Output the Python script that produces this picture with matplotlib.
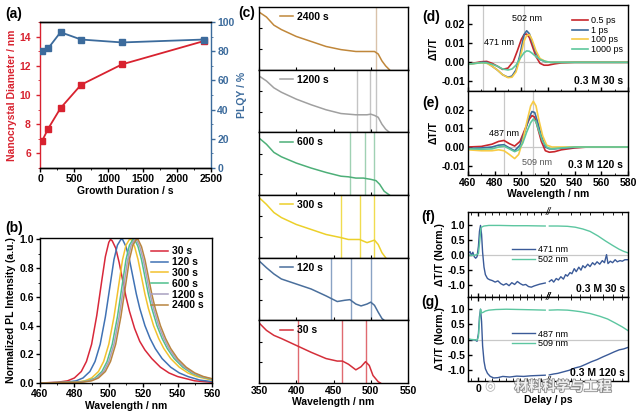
import numpy as np
import matplotlib.pyplot as plt
import matplotlib.patheffects as pe

plt.rcParams['font.family'] = ['Liberation Sans', 'DejaVu Sans']
plt.rcParams['font.weight'] = 'bold'
plt.rcParams['axes.labelweight'] = 'bold'
plt.rcParams['font.size'] = 7.5
plt.rcParams['axes.linewidth'] = 1.0

RED = '#d8222f'
BLUE = '#3c6b9c'

# ---------------- (a) growth ----------------
growth_t = [30, 120, 300, 600, 1200, 2400]
diameter = [6.85, 7.7, 9.1, 10.7, 12.1, 13.7]
plqy = [80, 82, 93, 88, 86, 88]

# ---------------- (b) PL spectra ----------------
pl_labels = ['30 s', '120 s', '300 s', '600 s', '1200 s', '2400 s']
pl_colors = ['#d8283a', '#4072b4', '#f2c12e', '#4fc08d', '#a8a0c0', '#b8843f']
pl_wl = [
    [460, 470, 476, 480, 484, 487, 490, 493, 496, 498, 500, 501, 502, 504, 506, 508, 510, 512, 515, 518, 521, 525, 530, 535, 540, 550, 560],
    [460, 475, 481, 485, 489, 492, 495, 498, 501, 503, 505, 507, 508, 510, 512, 514, 516, 518, 521, 524, 527, 531, 536, 541, 546, 553, 560],
    [460, 480, 486, 490, 494, 497, 500, 503, 506, 508, 510, 512, 513, 515, 517, 519, 521, 523, 526, 529, 532, 536, 541, 546, 551, 560],
    [460, 482, 488, 492, 496, 499, 502, 505, 508, 510, 512, 514, 515, 517, 519, 521, 523, 525, 528, 531, 534, 538, 543, 548, 553, 560],
    [460, 483, 489, 493, 497, 500, 503, 506, 509, 511, 513, 515, 516, 518, 520, 522, 524, 526, 529, 532, 535, 539, 544, 549, 554, 560],
    [460, 484, 490, 494, 498, 501, 504, 507, 510, 512, 514, 516, 517, 519, 521, 523, 525, 527, 530, 533, 536, 540, 545, 550, 555, 560],
]
pl_int = [
    [0.0, 0.005, 0.015, 0.035, 0.08, 0.15, 0.27, 0.47, 0.72, 0.88, 0.98, 1.0, 0.99, 0.94, 0.84, 0.72, 0.6, 0.5, 0.38, 0.29, 0.23, 0.17, 0.11, 0.07, 0.045, 0.015, 0.005],
    [0.0, 0.005, 0.015, 0.035, 0.08, 0.15, 0.27, 0.46, 0.7, 0.86, 0.96, 1.0, 1.0, 0.95, 0.86, 0.74, 0.62, 0.52, 0.4, 0.31, 0.24, 0.17, 0.11, 0.07, 0.045, 0.02, 0.01],
    [0.0, 0.005, 0.015, 0.035, 0.08, 0.15, 0.27, 0.46, 0.7, 0.86, 0.96, 1.0, 1.0, 0.95, 0.86, 0.74, 0.62, 0.52, 0.4, 0.31, 0.24, 0.17, 0.11, 0.07, 0.045, 0.02],
    [0.0, 0.005, 0.015, 0.035, 0.08, 0.15, 0.27, 0.46, 0.7, 0.86, 0.96, 1.0, 1.0, 0.95, 0.86, 0.74, 0.62, 0.52, 0.4, 0.31, 0.24, 0.17, 0.11, 0.07, 0.045, 0.025],
    [0.0, 0.005, 0.015, 0.035, 0.08, 0.15, 0.27, 0.46, 0.7, 0.86, 0.96, 1.0, 1.0, 0.95, 0.86, 0.74, 0.62, 0.52, 0.4, 0.31, 0.24, 0.17, 0.11, 0.07, 0.045, 0.028],
    [0.0, 0.005, 0.015, 0.035, 0.08, 0.15, 0.27, 0.46, 0.7, 0.86, 0.96, 1.0, 1.0, 0.95, 0.86, 0.74, 0.62, 0.52, 0.4, 0.31, 0.24, 0.17, 0.11, 0.07, 0.045, 0.03],
]

# ---------------- (c) absorption, top to bottom ----------------
abs_labels = ['2400 s', '1200 s', '600 s', '300 s', '120 s', '30 s']
abs_colors = ['#c0873a', '#a0a0a0', '#4daf78', '#ecd02a', '#4a6f9c', '#d42f3a']
abs_line_colors = ['#d9c2aa', '#c4c4c4', '#9fd1b3', '#f0dc50', '#8aa3c4', '#e06a70']
abs_wl = [
    [350, 360, 370, 380, 400, 420, 440, 460, 480, 500, 505, 510, 515, 520, 525],
    [350, 360, 370, 380, 400, 420, 440, 460, 480, 495, 500, 505, 510, 515, 520, 525],
    [350, 360, 370, 380, 400, 420, 440, 460, 470, 480, 490, 500, 507, 512, 518, 525],
    [350, 360, 370, 380, 400, 420, 440, 460, 470, 485, 495, 500, 505, 510, 515, 520],
    [350, 360, 370, 380, 400, 420, 440, 455, 465, 472, 480, 487, 495, 500, 505, 510, 515, 518],
    [350, 360, 370, 380, 400, 420, 440, 455, 462, 470, 480, 487, 493, 498, 503, 510, 513],
]
abs_od = [
    [0.92, 0.84, 0.71, 0.64, 0.53, 0.45, 0.37, 0.32, 0.29, 0.29, 0.29, 0.25, 0.14, 0.06, 0.0],
    [0.90, 0.82, 0.71, 0.64, 0.53, 0.44, 0.36, 0.30, 0.28, 0.28, 0.29, 0.27, 0.24, 0.13, 0.05, 0.0],
    [0.91, 0.81, 0.68, 0.61, 0.51, 0.43, 0.36, 0.30, 0.29, 0.27, 0.27, 0.25, 0.23, 0.17, 0.06, 0.0],
    [0.96, 0.85, 0.72, 0.64, 0.53, 0.45, 0.37, 0.32, 0.29, 0.29, 0.24, 0.26, 0.28, 0.21, 0.08, 0.0],
    [0.95, 0.84, 0.74, 0.66, 0.58, 0.50, 0.39, 0.30, 0.32, 0.33, 0.26, 0.23, 0.26, 0.29, 0.24, 0.13, 0.03, 0.0],
    [0.96, 0.84, 0.76, 0.71, 0.60, 0.49, 0.39, 0.35, 0.35, 0.30, 0.21, 0.26, 0.34, 0.28, 0.12, 0.02, 0.0],
]
abs_marks = [[507], [481, 499, 507], [472, 492, 505], [460, 485, 505], [447, 473, 500], [403, 461, 493]]

# ---------------- (d)/(e) TA spectra ----------------
ta_labels = ['0.5 ps', '1 ps', '100 ps', '1000 ps']
ta_colors = ['#c8262c', '#3c6b9c', '#f7cb45', '#5ec79c']
ta_d_wl = [
    [460, 465, 470, 474, 478, 482, 486, 490, 494, 497, 500, 502, 504, 506, 508, 511, 514, 517, 520, 525, 530, 540, 560, 580],
    [460, 465, 470, 474, 478, 482, 486, 490, 493, 496, 499, 502, 504, 506, 508, 511, 514, 518, 522, 530, 580],
    [460, 470, 474, 478, 482, 486, 490, 493, 496, 499, 502, 504, 506, 508, 511, 514, 518, 522, 580],
    [460, 470, 474, 478, 482, 486, 490, 493, 496, 499, 502, 504, 506, 508, 511, 514, 518, 522, 580],
]
ta_d_val = [
    [-0.001, -0.0003, 0.0003, 0.0005, -0.0005, -0.002, -0.0037, -0.003, 0.0005, 0.006, 0.012, 0.0145, 0.0148, 0.013, 0.009, 0.003, -0.0005, -0.0015, -0.0015, -0.0008, -0.0003, 0.0, 0.0, 0.0],
    [-0.001, -0.0005, 0.0, 0.0, -0.002, -0.004, -0.0065, -0.0078, -0.0072, -0.004, 0.004, 0.0145, 0.0165, 0.015, 0.011, 0.005, 0.0015, 0.0003, 0.0, 0.0, 0.0],
    [-0.001, -0.0002, -0.0005, -0.002, -0.004, -0.0065, -0.008, -0.0078, -0.005, 0.002, 0.011, 0.014, 0.0145, 0.012, 0.006, 0.002, 0.0005, 0.0, 0.0],
    [-0.001, -0.0002, -0.0003, -0.001, -0.002, -0.0035, -0.004, -0.0035, -0.0015, 0.002, 0.005, 0.006, 0.0058, 0.0048, 0.003, 0.0015, 0.0005, 0.0, 0.0],
]
ta_e_wl = [
    [460, 470, 478, 483, 487, 491, 495, 499, 503, 506, 508, 510, 512, 515, 518, 521, 525, 530, 540, 550, 580],
    [460, 470, 478, 483, 487, 491, 495, 499, 503, 506, 508, 510, 512, 515, 518, 521, 525, 530, 540, 550, 580],
    [460, 470, 478, 483, 487, 491, 495, 498, 501, 504, 507, 509, 511, 513, 516, 519, 523, 530, 580],
    [460, 470, 478, 483, 487, 491, 495, 498, 501, 504, 507, 509, 511, 513, 516, 519, 522, 530, 540, 580],
]
ta_e_val = [
    [0.0, 0.0003, 0.0015, 0.003, 0.0035, 0.0018, 0.0005, 0.003, 0.010, 0.015, 0.0168, 0.016, 0.011, 0.003, -0.002, -0.0028, -0.0025, -0.0015, -0.0005, 0.0, 0.0],
    [-0.0008, -0.0005, 0.0, 0.001, 0.0012, -0.0005, -0.002, 0.001, 0.009, 0.016, 0.019, 0.0185, 0.014, 0.006, 0.0, -0.001, -0.001, -0.0006, -0.0002, 0.0, 0.0],
    [-0.0015, -0.002, -0.002, -0.0015, -0.002, -0.004, -0.0062, -0.004, 0.003, 0.013, 0.022, 0.0245, 0.022, 0.015, 0.006, 0.001, 0.0, 0.0, 0.0],
    [-0.001, -0.0012, -0.001, 0.0, 0.0005, -0.001, -0.0025, -0.0015, 0.002, 0.008, 0.013, 0.015, 0.0135, 0.009, 0.003, 0.0, -0.001, -0.0005, 0.0, 0.0],
]

# ---------------- (f)/(g) kinetics ----------------
kin_f_labels = ['471 nm', '502 nm']
kin_g_labels = ['487 nm', '509 nm']
kin_colors = ['#3a5a98', '#5cc6a0']
f_blue_t1 = [-1.5, -1.2, -1.0, -0.8, -0.6, -0.4, -0.2, 0.0, 0.15, 0.3, 0.45, 0.6, 0.8, 1.0, 1.3, 1.6, 2.0, 2.4, 2.8, 3.2, 3.6, 4.0, 4.4, 4.8, 5.2, 5.6, 6.0, 6.4, 6.8, 7.2, 7.6, 8.0, 8.4, 8.8, 9.2, 9.6]
f_blue_v1 = [0.05, 0.12, 0.0, 0.1, -0.05, -0.1, -0.05, 0.3, 0.8, 1.0, 0.7, 0.1, -0.4, -0.65, -0.78, -0.82, -0.85, -0.9, -0.86, -0.95, -1.0, -0.95, -1.02, -0.92, -0.98, -0.88, -0.95, -1.0, -0.98, -1.05, -1.07, -1.03, -1.0, -0.97, -0.95, -0.93]
f_blue_t2 = [11, 13, 15, 18, 21, 25, 30, 35, 40, 48, 55, 65, 75, 90, 105, 120, 140, 170, 200, 240, 280, 330, 400, 480, 560, 650, 720, 850, 1000, 1200, 1400, 1700, 2000, 2400, 3000]
f_blue_v2 = [-0.88, -0.82, -0.9, -0.78, -0.83, -0.72, -0.8, -0.65, -0.7, -0.58, -0.62, -0.45, -0.55, -0.4, -0.5, -0.35, -0.42, -0.3, -0.38, -0.25, -0.32, -0.22, -0.3, -0.18, -0.25, 0.02, -0.28, -0.2, -0.25, -0.15, -0.22, -0.18, -0.2, -0.15, -0.15]
f_green_t1 = [-1.5, -0.5, 0.0, 0.2, 0.35, 0.5, 0.8, 1.5, 3, 5, 7, 9.6]
f_green_v1 = [0.0, 0.0, 0.05, 0.5, 0.9, 0.95, 0.98, 1.0, 1.0, 0.99, 0.99, 0.98]
f_green_t2 = [11, 20, 40, 70, 120, 200, 350, 600, 1000, 1600, 2200, 3000]
f_green_v2 = [0.98, 0.98, 0.97, 0.94, 0.88, 0.8, 0.65, 0.48, 0.33, 0.2, 0.13, 0.08]
g_blue_t1 = [-1.5, -1.0, -0.5, -0.2, 0.0, 0.15, 0.3, 0.45, 0.6, 0.8, 1.0, 1.3, 1.7, 2.2, 2.8, 3.5, 4.5, 5.5, 6.5, 7.5, 8.5, 9.6]
g_blue_v1 = [0.02, 0.0, 0.0, -0.05, 0.2, 0.75, 1.0, 0.6, -0.2, -0.7, -0.95, -1.1, -1.2, -1.25, -1.24, -1.2, -1.22, -1.19, -1.2, -1.18, -1.17, -1.16]
g_blue_t2 = [11, 15, 20, 30, 45, 70, 100, 150, 220, 330, 500, 750, 1100, 1600, 2200, 3000]
g_blue_v2 = [-1.15, -1.12, -1.1, -1.05, -1.0, -0.92, -0.88, -0.8, -0.72, -0.65, -0.56, -0.48, -0.4, -0.33, -0.3, -0.25]
g_green_t1 = [-1.5, -0.5, -0.2, 0.0, 0.15, 0.3, 0.45, 0.7, 1.0, 1.5, 2.5, 4, 6, 8, 9.6]
g_green_v1 = [0.02, 0.0, -0.02, 0.1, 0.6, 1.0, 0.88, 0.9, 0.94, 0.97, 0.99, 1.0, 0.99, 0.98, 0.97]
g_green_t2 = [11, 20, 40, 60, 100, 200, 400, 700, 1200, 2000, 3000]
g_green_v2 = [0.97, 0.98, 0.97, 0.95, 0.92, 0.86, 0.77, 0.68, 0.55, 0.42, 0.3]


def rect(l, t, r, b):
    return [l / 640, 1 - b / 416, (r - l) / 640, (b - t) / 416]


def plabel(x, y, s):
    fig.text(x / 640, 1 - y / 416, s, fontsize=10, fontweight='bold', va='center')


fig = plt.figure(figsize=(6.4, 4.16), dpi=100)

# (a)
ax = fig.add_axes(rect(40, 22, 211, 168))
ax.plot(growth_t, diameter, '-s', color=RED, ms=4, lw=1.3)
ax.set_xlim(0, 2500)
ax.set_ylim(5, 15)
ax.set_yticks([6, 8, 10, 12, 14])
ax.set_xticks([0, 500, 1000, 1500, 2000, 2500])
ax.set_xticks(np.arange(250, 2500, 500), minor=True)
ax.set_yticks([5, 7, 9, 11, 13, 15], minor=True)
ax.set_xlabel('Growth Duration / s', labelpad=1)
ax.set_ylabel('Nanocrystal Diameter / nm', color=RED, labelpad=2)
ax.tick_params(axis='y', colors=RED, length=3, width=1)
ax.tick_params(axis='y', which='minor', colors=RED, length=1.5)
ax.tick_params(axis='x', length=3, width=1, pad=1.5)
ax.tick_params(axis='x', which='minor', length=1.5)
ax.spines['left'].set_color(RED)
ax.spines['right'].set_visible(False)
ax2 = ax.twinx()
ax2.plot(growth_t, plqy, '-s', color=BLUE, ms=4, lw=1.3)
ax2.set_ylim(0, 100)
ax2.set_yticks([0, 20, 40, 60, 80, 100])
ax2.set_yticks([10, 30, 50, 70, 90], minor=True)
ax2.set_ylabel('PLQY / %', color=BLUE, labelpad=2)
ax2.tick_params(axis='y', colors=BLUE, length=3, width=1, pad=1.5)
ax2.tick_params(axis='y', which='minor', colors=BLUE, length=1.5)
ax2.spines['right'].set_color(BLUE)
ax2.spines['left'].set_visible(False)
plabel(5, 14, '(a)')

# (b)
ax = fig.add_axes(rect(40, 238, 212, 383))
for wl, it, lab, c in zip(pl_wl, pl_int, pl_labels, pl_colors):
    ax.plot(wl, it, color=c, lw=1.1, label=lab)
ax.set_xlim(460, 560)
ax.set_ylim(0, 1.01)
ax.set_xticks(np.arange(460, 561, 20))
ax.set_xticks(np.arange(470, 560, 20), minor=True)
ax.set_yticks(np.arange(0, 1.01, 0.2))
ax.set_yticks(np.arange(0.1, 1.0, 0.2), minor=True)
ax.yaxis.set_major_formatter(plt.FormatStrFormatter('%.1f'))
ax.tick_params(length=3, width=1, pad=1.5)
ax.tick_params(which='minor', length=1.5)
ax.set_xlabel('Wavelength / nm', labelpad=1)
ax.set_ylabel('Normalized PL Intensity (a.u.)', labelpad=2)
ax.legend(loc='upper right', frameon=False, handlelength=1.6,
          handletextpad=0.4, labelspacing=0.08, borderaxespad=0.4,
          prop={'weight': 'bold', 'size': 7.5})
plabel(5, 228, '(b)')

# (c)
top = 7.0
h = (383 - 7) / 6
for i in range(6):
    ax = fig.add_axes(rect(259, top + i * h, 408, top + (i + 1) * h))
    ax.plot(abs_wl[i], abs_od[i], color=abs_colors[i], lw=1.1, label=abs_labels[i])
    for m in abs_marks[i]:
        ax.axvline(m, color=abs_line_colors[i], lw=1.0, zorder=0)
    ax.set_xlim(350, 550)
    ax.set_ylim(0, 1.0)
    ax.set_yticks([0.33, 0.66])
    ax.set_yticklabels([])
    ax.set_xticks(np.arange(350, 551, 50))
    ax.tick_params(direction='in', length=2.5, width=0.8, pad=2)
    ax.tick_params(axis='x', top=False)
    if i < 5:
        ax.set_xticklabels([])
    else:
        ax.set_xlabel('Wavelength / nm', labelpad=1)
    ax.legend(loc='upper left', frameon=False, handlelength=1.2, handletextpad=0.4,
              borderaxespad=0.2, bbox_to_anchor=(0.1, 1.02),
              prop={'weight': 'bold', 'size': 7.5})
plabel(238, 13, '(c)')

# (d), (e)
for k, (wls, vals, top_px, bot_px, tag, lines, note) in enumerate([
        (ta_d_wl, ta_d_val, 5, 91, '(d)', [471, 502], '0.3 M 30 s'),
        (ta_e_wl, ta_e_val, 91, 175, '(e)', [487, 509], '0.3 M 120 s')]):
    ax = fig.add_axes(rect(468, top_px, 628, bot_px))
    ax.axhline(0, color='#c8c8c8', lw=0.9, zorder=0)
    for m in lines:
        ax.axvline(m, color='#c8c8c8', lw=0.9, zorder=0)
    for wl, v, lab, c in zip(wls, vals, ta_labels, ta_colors):
        ax.plot(wl, v, color=c, lw=1.2, label=lab)
    ax.set_xlim(460, 580)
    ax.set_ylim(-0.015, 0.03)
    ax.set_yticks([-0.01, 0.0, 0.01, 0.02])
    ax.yaxis.set_major_formatter(plt.FormatStrFormatter('%.2f'))
    ax.set_xticks(np.arange(460, 581, 20))
    ax.set_xticks(np.arange(470, 580, 20), minor=True)
    ax.tick_params(direction='in', length=3, width=1, pad=2)
    ax.tick_params(which='minor', direction='in', length=1.5)
    ax.set_ylabel('ΔT/T', labelpad=2)
    ax.text(0.97, 0.12, note, transform=ax.transAxes, ha='right', va='center',
            fontweight='bold', fontsize=7.5)
    if k == 0:
        ax.set_xticklabels([])
        ax.text(472, 0.0105, '471 nm', fontsize=6.5, fontweight='normal', va='center')
        ax.text(504, 0.0228, '502 nm', fontsize=6.5, fontweight='normal', va='center', ha='center')
        ax.legend(loc='upper right', bbox_to_anchor=(1.0, 0.93), frameon=False,
                  handlelength=1.8, handletextpad=0.3, labelspacing=0.05, borderaxespad=0.2,
                  prop={'weight': 'normal', 'size': 6.5})
    else:
        ax.set_xlabel('Wavelength / nm', labelpad=1)
        ax.text(487, 0.0075, '487 nm', fontsize=6.5, fontweight='normal', va='center', ha='center')
        ax.text(512, -0.0083, '509 nm', fontsize=6.5, fontweight='normal', va='center', ha='center',
                color='#555555')
    plabel(422, top_px + 12, tag)


# (f), (g) broken delay axis: linear below 10 ps, log above
def fwd(t):
    t = np.asarray(t, dtype=float)
    return np.where(t <= 10, (t + 1.5) / 11.5,
                    1 + np.log10(np.clip(t, 10, None) / 10) / np.log10(300))


def inv(u):
    u = np.asarray(u, dtype=float)
    return np.where(u <= 1, u * 11.5 - 1.5, 10 * 300 ** (u - 1))


kin_sets = [
    ('(f)', 212, 297, kin_f_labels, [(f_blue_t1, f_blue_v1, f_blue_t2, f_blue_v2),
                                     (f_green_t1, f_green_v1, f_green_t2, f_green_v2)],
     (-1.4, 1.45), '0.3 M 30 s'),
    ('(g)', 297, 381, kin_g_labels, [(g_blue_t1, g_blue_v1, g_blue_t2, g_blue_v2),
                                     (g_green_t1, g_green_v1, g_green_t2, g_green_v2)],
     (-1.35, 1.4), '0.3 M 120 s'),
]
for k, (tag, tp, bp, labs, series, ylim, note) in enumerate(kin_sets):
    ax = fig.add_axes(rect(468, tp, 628, bp))
    ax.set_xscale('function', functions=(fwd, inv))
    ax.axhline(0, color='#c8c8c8', lw=0.9, zorder=0)
    for (t1, v1, t2, v2), lab, c in zip(series, labs, kin_colors):
        ax.plot(t1, v1, color=c, lw=1.0, label=lab)
        ax.plot(t2, v2, color=c, lw=1.0)
    ax.set_xlim(-1.5, 3000)
    ax.set_ylim(*ylim)
    ax.set_yticks([-1.0, -0.5, 0.0, 0.5, 1.0])
    ax.yaxis.set_major_formatter(plt.FormatStrFormatter('%.1f'))
    ax.set_xticks([0])
    ax.set_xticks([-1, 1, 2, 3, 4, 5, 6, 7, 8, 9, 20, 50, 100, 200, 500, 1000, 2000], minor=True)
    ax.tick_params(direction='in', length=3, width=1, top=True, pad=2)
    ax.tick_params(which='minor', direction='in', length=2, top=True)
    ax.set_ylabel('ΔT/T (Norm.)', labelpad=2)
    ax.text(0.98, 0.1, note, transform=ax.transAxes, ha='right', va='center',
            fontweight='bold', fontsize=7.5)
    ax.legend(loc='center', bbox_to_anchor=(0.45, 0.5), frameon=False, handlelength=2.5,
              handletextpad=0.3, labelspacing=0.1,
              prop={'weight': 'normal', 'size': 6.5})
    for yy in (0, 1):
        ax.text(10, ylim[0] + yy * (ylim[1] - ylim[0]), '//', ha='center', va='center',
                fontsize=7, fontstyle='italic', fontweight='normal')
    if k == 0:
        ax.set_xticklabels([])
    else:
        ax.set_xlabel('Delay / ps', labelpad=1)
    plabel(421, tp + 5, tag)

# watermark
fig.text(490 / 640, 1 - 387 / 416, '◎', fontsize=9, color='#b0b0b0', ha='center', va='center',
         family=['DejaVu Sans'], fontweight='normal')
fig.text(563 / 640, 1 - 387 / 416, '材料科学与工程', fontsize=10, color='#f2f2f2',
         ha='center', va='center', family=['Noto Sans CJK SC', 'DejaVu Sans'],
         path_effects=[pe.withStroke(linewidth=1.2, foreground='#8a8a8a')])

fig.savefig('out.png', dpi=100)
